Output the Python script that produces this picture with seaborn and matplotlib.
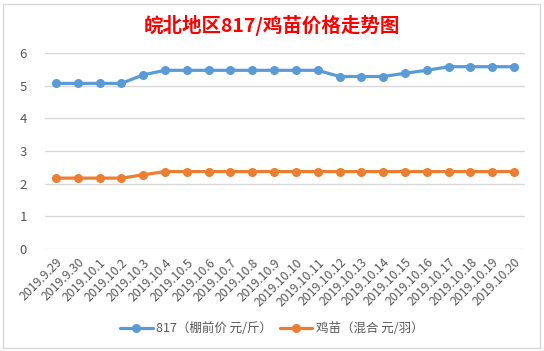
import seaborn as sns
import matplotlib.pyplot as plt
import matplotlib.patches as mpatches
import matplotlib.transforms as mtransforms
import pandas as pd
import numpy as np

# data
dates = ['2019.9.29', '2019.9.30', '2019.10.1', '2019.10.2', '2019.10.3', '2019.10.4',
         '2019.10.5', '2019.10.6', '2019.10.7', '2019.10.8', '2019.10.9', '2019.10.10',
         '2019.10.11', '2019.10.12', '2019.10.13', '2019.10.14', '2019.10.15', '2019.10.16',
         '2019.10.17', '2019.10.18', '2019.10.19', '2019.10.20']
price_817 = [5.07, 5.07, 5.07, 5.07, 5.33, 5.47, 5.47, 5.47, 5.47, 5.47, 5.47, 5.47,
             5.47, 5.28, 5.28, 5.28, 5.38, 5.47, 5.58, 5.58, 5.58, 5.58]
price_chick = [2.17, 2.17, 2.17, 2.17, 2.27, 2.37, 2.37, 2.37, 2.37, 2.37, 2.37, 2.37,
               2.37, 2.37, 2.37, 2.37, 2.37, 2.37, 2.37, 2.37, 2.37, 2.37]
series_names = ['817（棚前价 元/斤）', '鸡苗（混合 元/羽）']

df = pd.DataFrame({
    'idx': list(range(len(dates))) * 2,
    'price': price_817 + price_chick,
    'series': [series_names[0]] * len(dates) + [series_names[1]] * len(dates),
})

sns.set_style('white')
plt.rcParams['font.family'] = ['Noto Sans CJK SC', 'DejaVu Sans']

fig = plt.figure(figsize=(5.44, 3.51), dpi=100)
ax = fig.add_axes([0.0827, 0.2906, 0.8823, 0.5584])

# chart border like the Excel chart frame
fig.patches.append(mpatches.Rectangle((3 / 544, 3 / 351), 537 / 544, 344 / 351,
                                      transform=fig.transFigure, fill=False,
                                      edgecolor='#D9D9D9', linewidth=1))

sns.lineplot(data=df, x='idx', y='price', hue='series',
             palette=['#5B9BD5', '#ED7D31'], style='series',
             markers=['o', 'o'], dashes=False, linewidth=2.3,
             markersize=6.5, markeredgewidth=0, ax=ax)

ax.set_xlim(-0.5, len(dates) - 0.5)
ax.set_ylim(0, 6)
ax.set_yticks(range(0, 7))
ax.yaxis.grid(True, color='#D9D9D9', linewidth=1)
ax.set_axisbelow(True)
for s in ax.spines.values():
    s.set_visible(False)

ax.set_xticks(range(len(dates)))
ax.set_xticklabels(dates, rotation=45, ha='right', va='top',
                   rotation_mode='anchor', fontsize=8.8, color='#595959')
# nudge the rotated labels a little to the right, like Excel does
shift = mtransforms.ScaledTranslation(4 / 100, 0, fig.dpi_scale_trans)
for lab in ax.get_xticklabels():
    lab.set_transform(lab.get_transform() + shift)
ax.tick_params(axis='y', labelsize=9.5, colors='#595959', length=0, pad=13)
ax.tick_params(axis='x', length=0, pad=5)
ax.set_xlabel('')
ax.set_ylabel('')

fig.text(0.5, 0.928, '皖北地区817/鸡苗价格走势图', ha='center', va='center',
         fontsize=14, fontweight='bold', color='#FF0000')

handles, labels = ax.get_legend_handles_labels()
ax.legend(handles, labels, loc='center', bbox_to_anchor=(0.5, 0.063),
          bbox_transform=fig.transFigure, ncol=2, frameon=False,
          fontsize=9, labelcolor='#595959', handlelength=2.6,
          columnspacing=0.6, handletextpad=0.3)

fig.savefig('out.png', dpi=100)
